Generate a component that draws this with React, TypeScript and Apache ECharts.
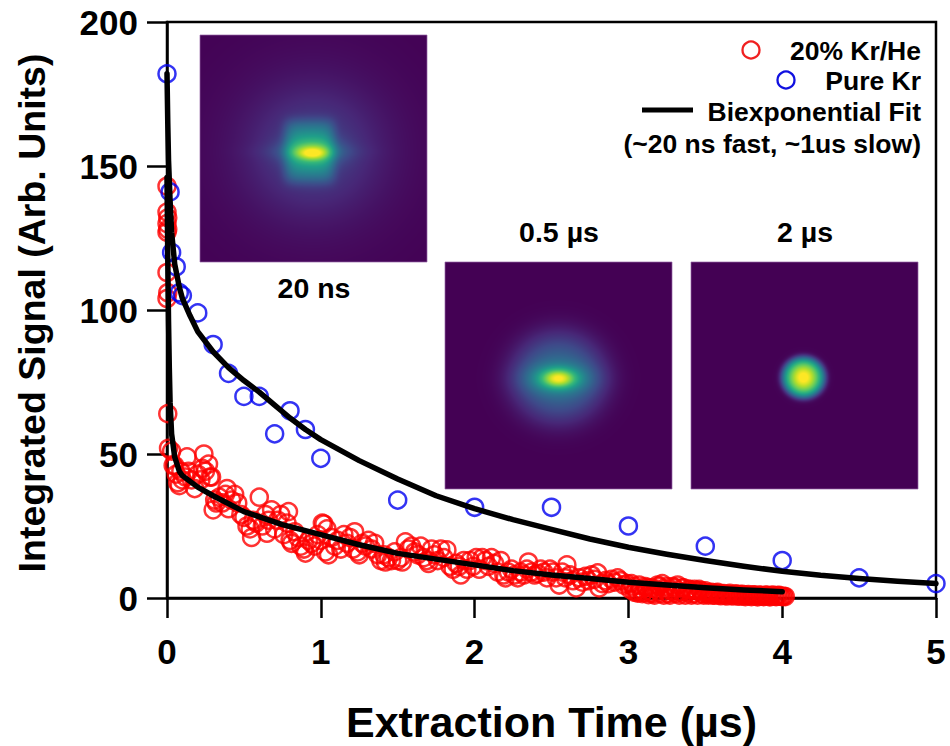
import React, { useEffect, useRef } from "react";
import * as echarts from "echarts";

const FONT = "'Liberation Sans', Arial, sans-serif";

const redPoints: number[][] = [
  [0,143],[0,134],[0.005,132],[0,130],[0.005,128],[0,127],[0,113],[0.005,106],[0,104],[0.005,64],[0.01,52],[0.03,51],[0.04,46],
  [0.05,46],[0.06,43],[0.07,40],[0.08,39],[0.09,44],[0.1,41],[0.12,42],[0.13,49],[0.14,44],[0.16,41],[0.18,38],[0.2,43],[0.22,41],[0.23,45],[0.24,50],[0.25,44],[0.27,46.5],[0.28,42],[0.29,42],
  [0.3,30.6],[0.31,34],[0.32,33],[0.34,35],[0.36,33],[0.38,36],[0.39,38],[0.4,31],[0.42,34],[0.44,36],[0.46,33],[0.48,29],[0.5,28],[0.52,25],[0.54,24],[0.55,21],[0.56,27],[0.58,26],
  [0.6,35],[0.62,25],[0.64,29],[0.65,22.5],[0.66,27],[0.68,30.6],[0.7,24],[0.72,27],[0.74,29],[0.76,22],[0.78,26],[0.79,30],[0.8,20],[0.81,19],[0.83,23],[0.85,21],[0.87,18],[0.89,17],[0.9,15.6],[0.92,20],[0.94,19],[0.96,18],[0.98,22],
  [1,20],[1.01,26],[1.02,25.7],[1.03,16],[1.04,24],[1.05,15],[1.07,21],[1.09,18],[1.11,20],[1.13,17],[1.15,22],[1.17,19],[1.19,21],[1.21,17],[1.22,23],[1.24,16],[1.25,15],[1.27,19],[1.29,18],[1.31,20],[1.33,17],[1.35,19],[1.37,15],[1.39,13],[1.41,15],[1.42,12.5],[1.44,14],[1.46,13],[1.48,16],[1.5,13],[1.52,14],[1.53,12.5],[1.55,19.5],[1.57,17],[1.59,18],[1.61,16],[1.63,15],[1.65,18],[1.67,14],[1.69,13],[1.7,12],[1.72,17],[1.74,15],[1.76,13],[1.78,17],[1.8,14],[1.82,16.7],[1.84,11],[1.86,10],[1.88,12],[1.9,11],[1.91,8],[1.93,13],[1.95,10],[1.97,13],[1.99,11],
  [2.01,14],[2.03,10],[2.05,14],[2.07,13],[2.09,11],[2.11,14],[2.13,12],[2.15,9],[2.17,13],[2.19,8],[2.2,7],[2.22,9],[2.24,10],[2.26,8],[2.28,7],[2.3,9],[2.32,8],[2.34,10],[2.35,12.5],[2.37,9],[2.39,8],[2.41,8.5],[2.43,10],[2.45,9],[2.47,7],[2.49,10],[2.51,9],[2.53,7],[2.55,4.5],[2.57,9],[2.59,7],[2.6,11.5],[2.62,8],[2.64,6],[2.66,3.5],[2.68,7],[2.7,5.5],[2.72,7.5],[2.74,6],[2.76,8],[2.78,6.5],[2.8,8.7],[2.81,3.5],[2.83,5],[2.85,6],[2.87,5],[2.89,6.5],[2.91,5.5],[2.93,7],[2.95,6],[2.97,4.5],[2.99,5],
  [3.01,3],[3.02,5],[3.03,4],[3.04,2],[3.05,2.5],[3.06,1.7],[3.07,4.5],[3.08,3],[3.09,1.5],[3.1,2],[3.11,4],[3.12,3.5],[3.13,1.2],[3.14,2],[3.15,3.5],[3.16,1.5],[3.17,1],[3.18,3],[3.19,4.5],[3.2,4],[3.21,1.5],[3.22,5],[3.23,1],[3.24,3],[3.25,4],[3.26,1.5],[3.27,1],[3.28,2.5],[3.29,4],[3.3,3.5],[3.31,1.5],[3.32,4.5],[3.33,1],[3.34,2],[3.35,3.5],[3.36,3.5],[3.37,1],[3.38,2],[3.39,3],[3.4,3],[3.41,1],[3.42,1.5],[3.43,3],[3.44,2.5],[3.45,1],[3.46,3],[3.47,2.5],[3.48,1.5],[3.49,1],[3.5,2.5],
  [3.51,1.5],[3.52,1],[3.53,1.8],[3.54,2],[3.55,1],[3.56,1],[3.57,1.7],[3.58,2],[3.59,1],[3.6,0.8],[3.61,1.4],[3.62,1.5],[3.63,0.9],[3.64,0.7],[3.65,1.3],[3.66,1.6],[3.67,0.9],[3.68,0.7],[3.69,1.2],[3.7,1.4],[3.71,0.8],[3.72,0.6],[3.73,1.2],[3.74,1.3],[3.75,0.7],[3.76,0.5],[3.77,1],[3.78,1.2],[3.79,0.7],[3.8,0.5],[3.81,1],[3.82,1.1],[3.83,0.6],[3.84,0.4],[3.85,0.9],[3.86,1],[3.87,0.6],[3.88,0.5],[3.89,0.9],[3.9,1],[3.91,0.6],[3.92,0.4],[3.93,0.8],[3.94,1],[3.95,0.6],[3.96,0.5],[3.97,0.8],[3.98,0.9],[3.99,0.6],[4,0.5],[4.01,0.6],[4.02,0.5]
];

const bluePoints: number[][] = [
  [0,182],[0.02,141],[0.03,120],[0.06,115],[0.08,106],[0.1,105],[0.2,99],[0.3,88],[0.4,78],[0.5,70],[0.6,70],[0.7,57],[0.8,65],[0.9,58.5],[1,48.5],[1.5,34],[2,31.5],[2.5,31.5],[3,25],[3.5,18],[4,13],[4.5,7],[5,5]
];

const krFit: number[][] = [
  [0,182],[0.005,165],[0.01,152],[0.02,138],[0.03,127],[0.05,116],[0.08,108],[0.1,104],[0.15,98],[0.2,92.5],[0.3,85.5],[0.4,80],[0.5,75.5],[0.6,71.5],[0.7,67],[0.8,62.5],[0.9,58.5],[1,55],[1.25,47.7],[1.5,41.3],[1.75,35.5],[2,31],[2.25,27.2],[2.5,23.8],[2.75,20.5],[3,17.6],[3.25,15.2],[3.5,13],[3.75,11],[4,9.3],[4.25,7.9],[4.5,6.8],[4.75,5.8],[5,5]
];

const krHeFit: number[][] = [
  [0,146],[0.005,118],[0.01,96],[0.015,80],[0.02,68],[0.03,57],[0.05,49],[0.08,44],[0.1,42.5],[0.2,38.5],[0.3,35.5],[0.5,30],[0.75,25.5],[1,22],[1.25,18.5],[1.5,15.5],[1.75,13.5],[2,11.5],[2.25,9.5],[2.5,8],[2.75,6.8],[3,5.5],[3.25,4.5],[3.5,3.6],[3.75,2.8],[4,2.2]
];

const xTicks = [0, 1, 2, 3, 4, 5];
const yTicks = [0, 50, 100, 150, 200];

// inset pictures: [cx, cy, sx, sy, amplitude, power, square(1) or round(0)] in a 227-pixel square
const inset20ns: number[][] = [
  [113,115,95,95,0.07,2,0],[113,115,58,55,0.14,2,0],[109,116,25,31,0.29,5,1],[109,116,46,7,0.05,2,0],[112,116,28,13,0.3,2,0],[112,118,14,6,0.24,2,0]
];
const inset05us: number[][] = [
  [113,115,46,44,0.34,3,0],[113,116,32,14,0.26,2,0],[113,116,16,9,0.42,2,0]
];
const inset2us: number[][] = [
  [112,115,22,21,0.62,6,0],[112,115,13,13,0.42,2,0]
];

const viridis: number[][] = [
  [68,1,84],[71,39,119],[62,73,137],[49,103,142],[38,130,142],[31,158,137],[53,183,121],[110,206,88],[181,222,43],[253,231,37]
];

function insetUrl(blobs: number[][]): string {
  const n = 227;
  const canvas = document.createElement("canvas");
  canvas.width = n;
  canvas.height = n;
  const ctx = canvas.getContext("2d")!;
  const im = ctx.createImageData(n, n);
  for (let y = 0; y < n; y++) {
    for (let x = 0; x < n; x++) {
      let v = 0;
      for (const [cx, cy, sx, sy, a, p, sq] of blobs) {
        const dx = Math.abs(x - cx) / sx;
        const dy = Math.abs(y - cy) / sy;
        const d = sq ? Math.pow(dx, p) + Math.pow(dy, p) : Math.pow(dx * dx + dy * dy, p / 2);
        v += a * Math.exp(-d);
      }
      v = Math.min(1, v);
      const t = v * (viridis.length - 1);
      const i = Math.min(viridis.length - 2, Math.floor(t));
      const f = t - i;
      const k = (y * n + x) * 4;
      for (let c = 0; c < 3; c++) im.data[k + c] = viridis[i][c] + (viridis[i + 1][c] - viridis[i][c]) * f;
      im.data[k + 3] = 255;
    }
  }
  ctx.putImageData(im, 0, 0);
  return canvas.toDataURL("image/png");
}

function inset(blobs: number[][], x: number, y: number) {
  return [
    { type: "image", x, y, z: 5, style: { image: insetUrl(blobs), width: 227, height: 227 } },
    { type: "rect", x, y, z: 6, shape: { x: 0, y: 0, width: 227, height: 227 }, style: { fill: "none", stroke: "rgba(150,100,165,0.7)", lineWidth: 1 } }
  ];
}

function label(text: string, x: number, y: number, size: number, align: string) {
  return { type: "text", x, y, z: 7, style: { text, font: `bold ${size}px ${FONT}`, fill: "#000", align, verticalAlign: "middle" } };
}

export default function App() {
  const ref = useRef<HTMLDivElement>(null);
  useEffect(() => {
    document.body.style.margin = "0";
    const chart = echarts.init(ref.current!, undefined, { renderer: "svg" });
    chart.setOption({
      animation: false,
      backgroundColor: "#fff",
      grid: { left: 167, top: 22, width: 769, height: 576, outerBoundsMode: "none", show: true, borderColor: "#000", borderWidth: 2.5, backgroundColor: "transparent" },
      xAxis: {
        type: "value", min: xTicks[0], max: xTicks[xTicks.length - 1], interval: 1,
        name: "Extraction Time (µs)", nameLocation: "middle", nameGap: 102,
        nameTextStyle: { fontFamily: FONT, fontWeight: "bold", fontSize: 43, color: "#000" },
        axisLine: { show: true, lineStyle: { color: "#000", width: 2.5 } },
        axisTick: { show: true, length: 20, lineStyle: { color: "#000", width: 2.5 } },
        axisLabel: { margin: 36, fontFamily: FONT, fontWeight: "bold", fontSize: 35, color: "#000" },
        splitLine: { show: false }
      },
      yAxis: {
        type: "value", min: yTicks[0], max: yTicks[yTicks.length - 1], interval: 50,
        name: "Integrated Signal (Arb. Units)", nameLocation: "middle", nameGap: 116,
        nameTextStyle: { fontFamily: FONT, fontWeight: "bold", fontSize: 37.5, color: "#000", padding: [0, 6, 0, 0] },
        axisLine: { show: true, lineStyle: { color: "#000", width: 2.5 } },
        axisTick: { show: true, length: 20, lineStyle: { color: "#000", width: 2.5 } },
        axisLabel: { margin: 29, fontFamily: FONT, fontWeight: "bold", fontSize: 35, color: "#000" },
        splitLine: { show: false }
      },
      series: [
        { name: "20% Kr/He", type: "scatter", data: redPoints, symbol: "circle", symbolSize: 17, clip: false, itemStyle: { color: "transparent", borderColor: "#ff0000", borderWidth: 2.5 } },
        { name: "Pure Kr", type: "scatter", data: bluePoints, symbol: "circle", symbolSize: 17, clip: false, itemStyle: { color: "transparent", borderColor: "#0000f0", borderWidth: 2.5 } },
        { name: "Biexponential Fit", type: "line", data: krHeFit, symbol: "none", clip: false, lineStyle: { color: "#000", width: 5.5, cap: "round", join: "round" } },
        { name: "Biexponential Fit (Kr)", type: "line", data: krFit, symbol: "none", clip: false, lineStyle: { color: "#000", width: 5.5, cap: "round", join: "round" } }
      ],
      graphic: [
        ...inset(inset20ns, 200, 35),
        ...inset(inset05us, 445, 262),
        ...inset(inset2us, 691, 262),
        label("20 ns", 314, 288, 28.5, "center"),
        label("0.5 µs", 559, 232, 28.5, "center"),
        label("2 µs", 805, 232, 28.5, "center"),
        label("20% Kr/He", 921, 51, 26.5, "right"),
        label("Pure Kr", 921, 81, 26.5, "right"),
        label("Biexponential Fit", 921, 112, 26.5, "right"),
        label("(~20 ns fast, ~1us slow)", 921, 144, 26.5, "right"),
        { type: "circle", z: 7, shape: { cx: 751, cy: 50, r: 8.5 }, style: { fill: "none", stroke: "#f02020", lineWidth: 2.3 } },
        { type: "circle", z: 7, shape: { cx: 786, cy: 80, r: 8.5 }, style: { fill: "none", stroke: "#1010e0", lineWidth: 2.3 } },
        { type: "line", z: 7, shape: { x1: 642, y1: 110, x2: 693, y2: 110 }, style: { stroke: "#000", lineWidth: 5 } }
      ]
    });
    return () => chart.dispose();
  }, []);
  return <div ref={ref} style={{ width: 950, height: 746 }} />;
}
